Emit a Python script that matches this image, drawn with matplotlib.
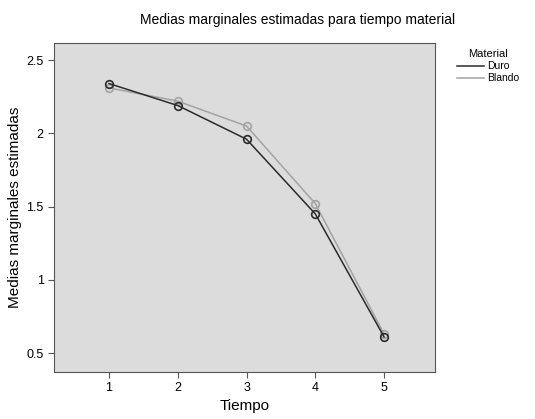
import matplotlib
matplotlib.use("Agg")
import matplotlib.pyplot as plt

plt.rcParams["font.family"] = ["Liberation Sans", "DejaVu Sans"]

tiempo = [1, 2, 3, 4, 5]
duro = [2.34, 2.19, 1.96, 1.45, 0.61]
blando = [2.31, 2.22, 2.05, 1.52, 0.63]
y_ticks = [0.5, 1, 1.5, 2, 2.5]
y_labels = ["0.5", "1", "1.5", "2", "2.5"]

fig = plt.figure(figsize=(5.35, 4.19), dpi=100)
ax = fig.add_axes([0.101, 0.112, 0.712, 0.785])
ax.set_facecolor("#dcdcdc")

ax.plot(tiempo, blando, color="#a3a3a3", lw=1.1, marker="o", ms=5.5,
        mfc="none", mec="#a3a3a3", mew=1.2, label="Blando")
ax.plot(tiempo, duro, color="#2b2b2b", lw=1.1, marker="o", ms=5.5,
        mfc="none", mec="#2b2b2b", mew=1.2, label="Duro")

ax.set_xlim(0.2, 5.74)
ax.set_ylim(0.37, 2.616)
ax.set_xticks(tiempo)
ax.set_yticks(y_ticks)
ax.set_yticklabels(y_labels)
ax.tick_params(labelsize=9, length=4, color="#555555")
for s in ax.spines.values():
    s.set_color("#555555")
    s.set_linewidth(0.8)

ax.set_xlabel("Tiempo", fontsize=11, labelpad=3)
ax.set_ylabel("Medias marginales estimadas", fontsize=11, labelpad=3)
fig.suptitle("Medias marginales estimadas para tiempo material",
             x=0.557, y=0.97, fontsize=10)

handles, labels = ax.get_legend_handles_labels()
leg = fig.legend(handles[::-1], labels[::-1], title="Material",
                 loc="upper left", bbox_to_anchor=(0.84, 0.9),
                 frameon=False, fontsize=7.5, title_fontsize=8,
                 handlelength=2.6, handletextpad=0.3, labelspacing=0.2,
                 borderpad=0.2)
for h in leg.legend_handles:
    h.set_marker("")

fig.savefig("out.png", dpi=100)
